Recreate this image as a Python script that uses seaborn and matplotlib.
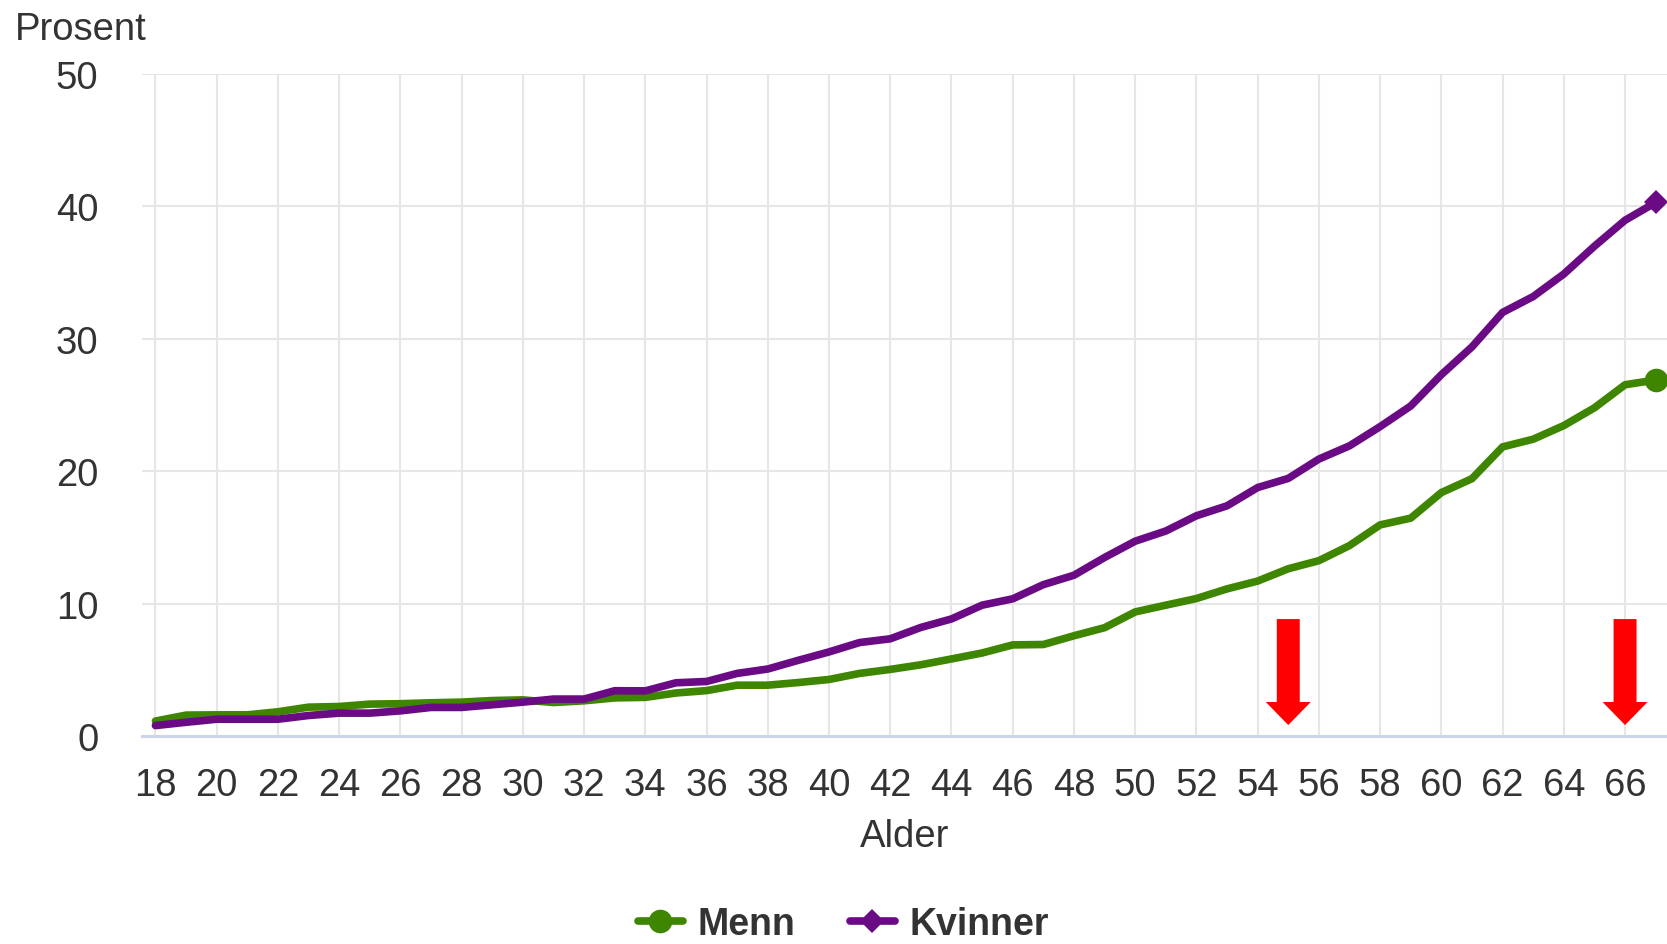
import matplotlib
matplotlib.use("Agg")
import matplotlib.pyplot as plt
import seaborn as sns
import pandas as pd

# ---- data ----
ages = list(range(18, 68))
menn = [1.15, 1.6, 1.62, 1.62, 1.85, 2.2, 2.25, 2.43, 2.46, 2.53,
        2.58, 2.7, 2.75, 2.55, 2.68, 2.9, 2.94, 3.27, 3.45, 3.86,
        3.86, 4.06, 4.29, 4.75, 5.05, 5.4, 5.84, 6.29, 6.9, 6.93,
        7.59, 8.2, 9.39, 9.9, 10.4, 11.13, 11.72, 12.65, 13.26, 14.4,
        15.96, 16.47, 18.4, 19.45, 21.85, 22.43, 23.46, 24.8, 26.54, 26.9]
kvinner = [0.81, 1.06, 1.29, 1.29, 1.29, 1.57, 1.75, 1.75, 1.92, 2.18,
           2.18, 2.38, 2.58, 2.81, 2.81, 3.44, 3.43, 4.04, 4.14, 4.75,
           5.08, 5.74, 6.37, 7.08, 7.36, 8.22, 8.86, 9.9, 10.38, 11.45,
           12.16, 13.5, 14.73, 15.5, 16.65, 17.4, 18.78, 19.47, 20.93, 21.93,
           23.38, 24.94, 27.3, 29.4, 32.0, 33.2, 34.9, 37.0, 38.96, 40.3]
series_names = ["Menn", "Kvinner"]
x_ticks = list(range(18, 67, 2))
y_ticks = [0, 10, 20, 30, 40, 50]
arrow_ages = [55, 66]
y_title = "Prosent"
x_title = "Alder"

# ---- style ----
sns.set_style("white")
plt.rcParams["font.family"] = ["Liberation Sans", "DejaVu Sans"]
TXT = "#333333"
GREEN = "#3f8600"
PURPLE = "#6a0a84"
GRID = "#e6e6e6"
AXIS = "#ccd6eb"

W, H = 1667, 945
fig = plt.figure(figsize=(W / 100, H / 100), dpi=100)
left_px, base_px, top_px = 142, 737.3, 75
ax = fig.add_axes([left_px / W, 1 - base_px / H, 1 - left_px / W, (base_px - top_px) / H])

df = pd.DataFrame({"Alder": ages, "Menn": menn, "Kvinner": kvinner})

sns.lineplot(data=df, x="Alder", y="Menn", ax=ax, color=GREEN, lw=5.5,
             marker="o", markersize=17, markeredgewidth=0, markevery=[-1],
             label=series_names[0], zorder=3)
sns.lineplot(data=df, x="Alder", y="Kvinner", ax=ax, color=PURPLE, lw=5.5,
             marker="D", markersize=12, markeredgewidth=0, markevery=[-1],
             label=series_names[1], zorder=4)

# red arrows
for a in arrow_ages:
    ax.arrow(a, 8.85, 0, -8.0, width=0.75, head_width=1.47, head_length=1.74,
             length_includes_head=True, color="#ff0000", lw=0, zorder=5)

ax.set_xlim(17.56, 67.37)
ax.set_ylim(0, 50)
ax.set_xticks(x_ticks)
ax.set_yticks(y_ticks)
ax.set_xticklabels([str(t) for t in x_ticks])
ax.set_yticklabels([str(t) for t in y_ticks])

ax.grid(True, color=GRID, lw=1.5, zorder=0)
ax.set_axisbelow(True)
for s in ["top", "right", "left"]:
    ax.spines[s].set_visible(False)
ax.spines["bottom"].set_color(AXIS)
ax.spines["bottom"].set_linewidth(2.2)

ax.tick_params(axis="x", length=21, width=1.5, color=AXIS, pad=1,
               labelsize=27.5, labelcolor=TXT)
ax.tick_params(axis="y", length=0, pad=31.5, labelsize=27.5, labelcolor=TXT)

ax.set_ylabel("")
ax.set_xlabel(x_title, fontsize=27.5, color=TXT)
ax.xaxis.label.set_va("baseline")
ax.xaxis.set_label_coords(0.5, -(847 - base_px) / (base_px - top_px))

fig.text(15 / W, 1 - 40 / H, y_title, fontsize=27.5, color=TXT, va="baseline", ha="left")

handles, labels = ax.get_legend_handles_labels()
if ax.get_legend() is not None:
    ax.get_legend().remove()
leg = fig.legend(handles, labels, loc="center", bbox_to_anchor=(0.506, 1 - 925 / H),
                 ncol=2, frameon=False, handlelength=1.2, handletextpad=0.4,
                 columnspacing=1.45, borderpad=0,
                 prop={"size": 27, "weight": "bold"})
for t in leg.get_texts():
    t.set_color(TXT)

fig.savefig("out.png", dpi=100)
